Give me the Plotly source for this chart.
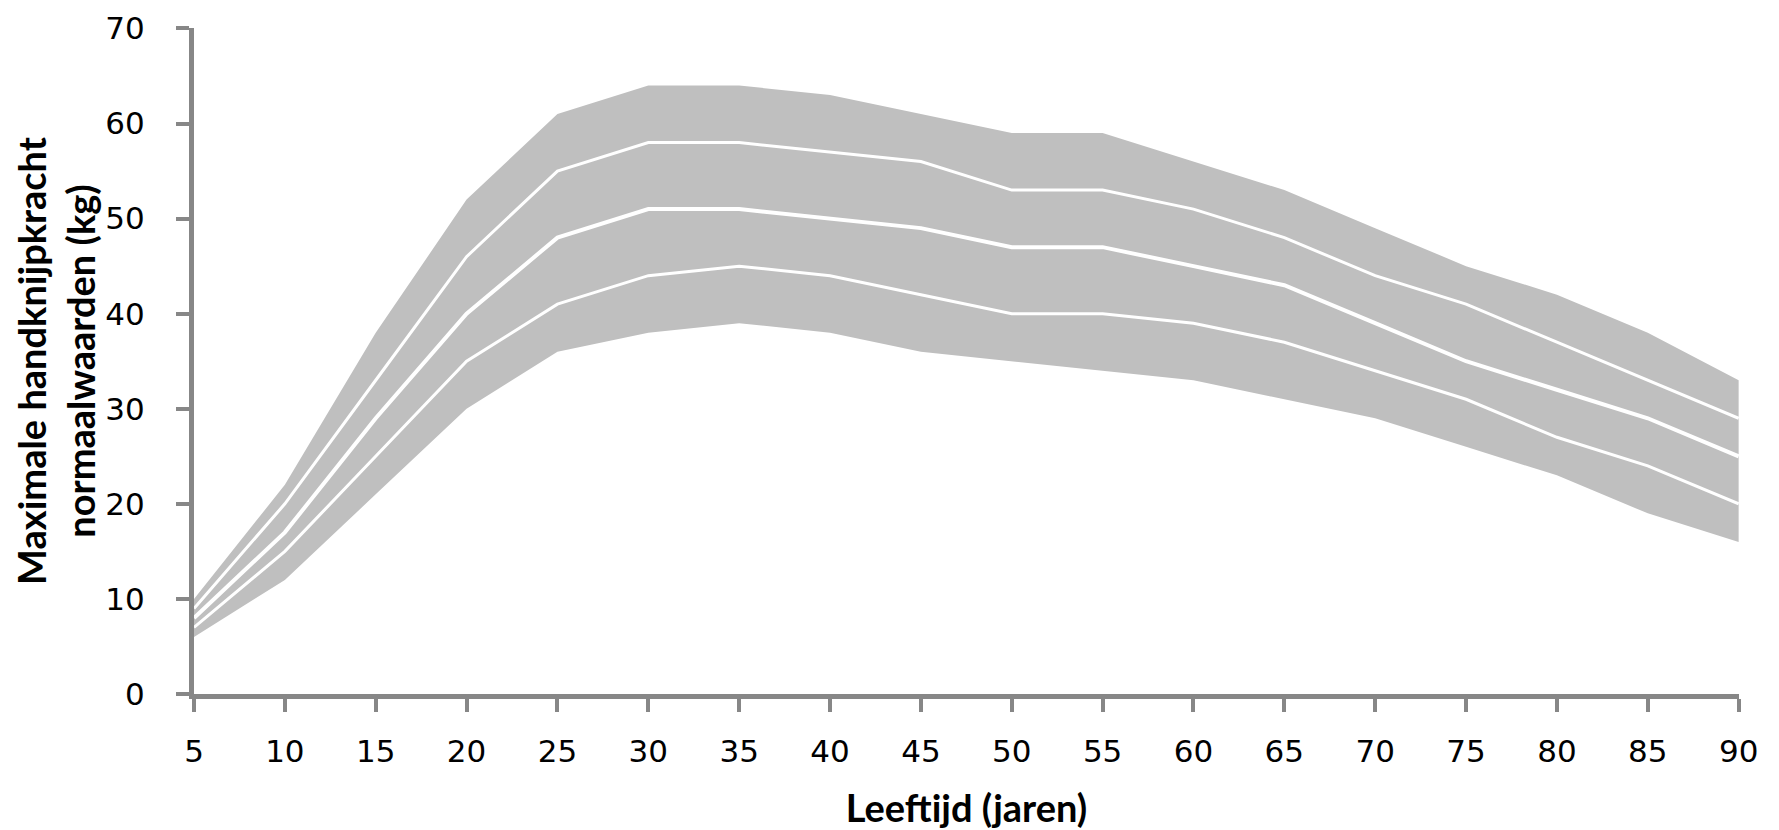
import plotly.graph_objects as go

ages = [5, 10, 15, 20, 25, 30, 35, 40, 45, 50, 55, 60, 65, 70, 75, 80, 85, 90]
band_low = [6, 12, 21, 30, 36, 38, 39, 38, 36, 35, 34, 33, 31, 29, 26, 23, 19, 16]
line_low = [7, 15, 25, 35, 41, 44, 45, 44, 42, 40, 40, 39, 37, 34, 31, 27, 24, 20]
line_mid = [8, 17, 29, 40, 48, 51, 51, 50, 49, 47, 47, 45, 43, 39, 35, 32, 29, 25]
line_high = [9, 20, 33, 46, 55, 58, 58, 57, 56, 53, 53, 51, 48, 44, 41, 37, 33, 29]
band_high = [10, 22, 38, 52, 61, 64, 64, 63, 61, 59, 59, 56, 53, 49, 45, 42, 38, 33]
x_ticks = list(range(5, 91, 5))
y_ticks = list(range(0, 71, 10))

AXIS = "#878787"
BAND = "#BFBFBF"

fig = go.Figure()
fig.add_trace(go.Scatter(x=ages, y=band_low, mode="lines",
                         line=dict(width=0, color=BAND), showlegend=False, hoverinfo="skip"))
fig.add_trace(go.Scatter(x=ages, y=band_high, mode="lines", fill="tonexty",
                         fillcolor=BAND, line=dict(width=0, color=BAND),
                         showlegend=False, hoverinfo="skip"))
for series, w in ((line_low, 3), (line_mid, 4), (line_high, 3)):
    fig.add_trace(go.Scatter(x=ages, y=series, mode="lines",
                             line=dict(width=w, color="white"), showlegend=False))

fig.update_layout(
    width=1771, height=822,
    margin=dict(l=186, r=40, t=20, b=136),
    plot_bgcolor="white", paper_bgcolor="white",
    xaxis=dict(
        range=[5, 90.02], tickvals=x_ticks, ticktext=[str(v) for v in x_ticks],
        showgrid=False, zeroline=False, automargin=False,
        showline=True, linecolor=AXIS, linewidth=5,
        ticks="outside", ticklen=13, tickwidth=4, tickcolor=AXIS,
        ticklabelstandoff=13, ticklabeloverflow="allow",
        tickfont=dict(family="DejaVu Sans", size=31, color="black"),
        title=dict(text="<b>Leeftijd (jaren)</b>", font=dict(family="Lato", size=38, color="black"),
                   standoff=31),
    ),
    yaxis=dict(
        range=[0, 70.05], tickvals=y_ticks, ticktext=[str(v) for v in y_ticks],
        showgrid=False, zeroline=False, automargin=False,
        showline=True, linecolor=AXIS, linewidth=5,
        ticks="outside", ticklen=13, tickwidth=4, tickcolor=AXIS,
        ticklabelstandoff=25, ticklabeloverflow="allow",
        tickfont=dict(family="DejaVu Sans", size=31, color="black"),
        title=dict(text="<b>Maximale handknijpkracht<br>normaalwaarden (kg)</b>",
                   font=dict(family="Lato", size=38, color="black"), standoff=15),
    ),
)

fig.write_html("out.html")
